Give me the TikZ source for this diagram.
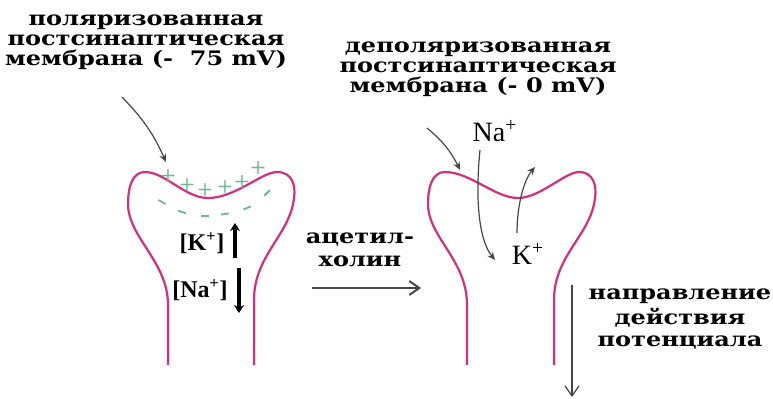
\documentclass[tikz,border=0pt]{standalone}
\usepackage{fontspec}
\setmainfont{Liberation Serif}
\newfontfamily\capfont{DejaVu Serif}[FakeStretch=1.2]
\usepackage{xcolor}
\usetikzlibrary{arrows.meta}
\definecolor{membpink}{RGB}{212,46,128}
\definecolor{chargegreen}{RGB}{110,185,145}
\definecolor{ptrgray}{RGB}{70,70,70}
\tikzset{Cap/.style={font=\capfont\bfseries\fontsize{10}{10}\selectfont,align=center,inner sep=0pt},
  Ion/.style={font=\fontsize{14}{15}\selectfont,inner sep=0pt},
  Memb/.style={draw=membpink,line width=1.1pt,line join=round},
  Ptr/.style={draw=ptrgray,line width=0.6pt,-{Stealth[length=4pt,width=3.5pt]}},
  Conc/.style={line width=1.6pt,-{Stealth[length=4pt,width=5pt]}},
  Plus/.style={text=chargegreen,font=\sffamily\bfseries\fontsize{9}{9}\selectfont,inner sep=0pt},
  Minus/.style={fill=chargegreen,minimum width=4pt,minimum height=0.9pt,inner sep=0pt}}

\begin{document}
\begin{tikzpicture}[x=0.5pt,y=-0.5pt]
  \useasboundingbox (0,0) rectangle (773,398);
  % captions
  \node[Cap] (pol) at (146,42) {поляризованная\\постсинаптическая\\мембрана (-~~75 mV)};
  \node[Cap] (depol) at (478,69) {деполяризованная\\постсинаптическая\\мембрана (- 0 mV)};
  \node[Cap] (ach) at (360,250) {ацетил-\\[1.5pt]холин};
  \node[Cap] (dir) at (680,319) {направление\\[1pt]действия\\[1pt]потенциала};

  % polarized synapse
  \draw[Memb] (168,365) -- (168,305) .. controls (168,262) and (129,238) .. (128,205)
    .. controls (128,185) and (133,172) .. (145,172) .. controls (165,172) and (185,198) .. (208,198)
    .. controls (235,198) and (262,172) .. (277,172) .. controls (292,172) and (296,185) .. (294,198)
    .. controls (290,235) and (254,255) .. (254,300) -- (254,365);
  \foreach \x/\y in {168/176,187/185,205/190,225/187,242/182,258/168}
    \node[Plus] at (\x,\y) {+};
  \foreach \x/\y/\a in {162/202/-30,182/212/-18,205/216/0,225/214/8,247/208/22,267/193/45}
    \node[Minus,rotate=\a] at (\x,\y) {};
  \node[Ion,font=\bfseries\fontsize{12}{13}\selectfont] (kin) at (202,243) {[K\textsuperscript{+}]};
  \node[Ion,font=\bfseries\fontsize{12}{13}\selectfont] (nain) at (200,290) {[Na\textsuperscript{+}]};
  \coordinate (k1) at (235,258);
  \coordinate (k2) at (235,223);
  \coordinate (n1) at (239,268);
  \coordinate (n2) at (239,313);
  \draw[Conc] (k1) -- (k2);
  \draw[Conc] (n1) -- (n2);
  \coordinate (polptr) at (122,97);
  \coordinate (poltip) at (166,162);
  \draw[Ptr] (polptr) to[bend left=10] (poltip);

  % acetylcholine
  \coordinate (a1) at (312,288);
  \coordinate (a2) at (421,288);
  \draw[draw=ptrgray,line width=1pt,-{Straight Barb[length=5pt,width=7pt]}] (a1) -- (a2);

  % depolarized synapse
  \draw[Memb] (467,365) -- (467,305) .. controls (467,260) and (429,238) .. (428,205)
    .. controls (428,185) and (433,172) .. (445,172) .. controls (470,172) and (495,198) .. (518,198)
    .. controls (540,198) and (565,172) .. (579,172) .. controls (593,172) and (597,185) .. (595,198)
    .. controls (591,235) and (554,255) .. (554,300) -- (554,365);
  \node[Ion] (na) at (495,131) {Na\textsuperscript{+}};
  \node[Ion] (k) at (528,254) {K\textsuperscript{+}};
  \coordinate (depolptr) at (427,128);
  \coordinate (depoltip) at (460,170);
  \draw[Ptr] (depolptr) to[bend left=12] (depoltip);
  \coordinate (na1) at (480,150);
  \coordinate (na2) at (495,260);
  \draw[Ptr] (na1) .. controls (475,200) and (479,240) .. (na2);
  \coordinate (k1r) at (517,233);
  \coordinate (k2r) at (535,167);
  \draw[Ptr] (k1r) .. controls (517,205) and (524,180) .. (k2r);

  % direction of the potential
  \coordinate (d1) at (572,285);
  \coordinate (d2) at (572,397);
  \draw[draw=ptrgray,line width=0.6pt,-{Straight Barb[length=5pt,width=7pt]}] (d1) -- (d2);
\end{tikzpicture}
\end{document}
